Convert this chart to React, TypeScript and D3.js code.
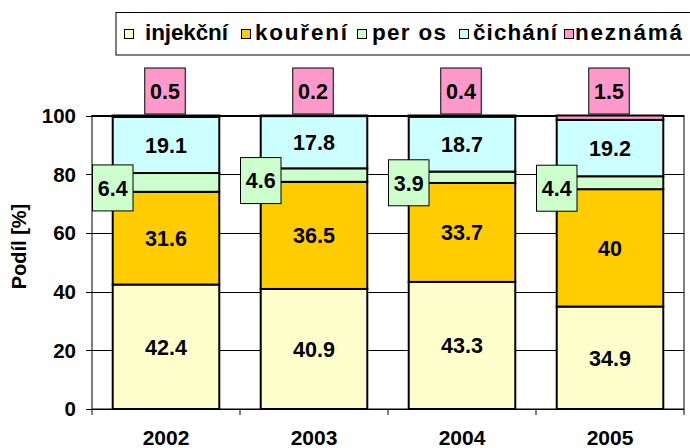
import React from "react";
import * as d3 from "d3";

const years = ["2002", "2003", "2004", "2005"];
const seriesNames = ["injekční", "kouření", "per os", "čichání", "neznámá"];
const injekcni = [42.4, 40.9, 43.3, 34.9];
const koureni = [31.6, 36.5, 33.7, 40];
const perOs = [6.4, 4.6, 3.9, 4.4];
const cichani = [19.1, 17.8, 18.7, 19.2];
const neznama = [0.5, 0.2, 0.4, 1.5];
const yTicks = [0, 20, 40, 60, 80, 100];
const colors = ["#FFFFCC", "#FFCC00", "#CCFFCC", "#CCFFFF", "#FF99CC"];

const FONT = "'Liberation Sans', Arial, Helvetica, sans-serif";

export default function App() {
  const W = 690, H = 448;
  const left = 92, right = 684, top = 115.5, bottom = 409;

  const rows = years.map((y, i) => ({
    year: y,
    [seriesNames[0]]: injekcni[i],
    [seriesNames[1]]: koureni[i],
    [seriesNames[2]]: perOs[i],
    [seriesNames[3]]: cichani[i],
    [seriesNames[4]]: neznama[i],
  }));
  const stack = d3.stack<any>().keys(seriesNames)(rows);

  const x = d3.scaleBand().domain(years).range([left, right]).paddingInner(0.28).paddingOuter(0.14);
  const y = d3.scaleLinear().domain([0, 100]).range([bottom, top]);
  const step = x.step();

  const legendItems = [
    { sq: 124, tx: 145, w: 83 },
    { sq: 241, tx: 255, w: 92 },
    { sq: 357, tx: 372, w: 74 },
    { sq: 459, tx: 473, w: 84 },
    { sq: 564, tx: 575, w: 107 },
  ];

  const boxW = 40.5, boxH = 46;

  return (
    <svg width={W} height={H} style={{ position: "absolute", left: 0, top: 0, background: "#fff" }} fontFamily={FONT}>
      <rect x={0} y={0} width={W} height={H} fill="#fff" />
      {/* legend */}
      <rect x={116} y={12.5} width={600} height={42.5} fill="#fff" stroke="#000" strokeWidth={1} />
      {seriesNames.map((s, i) => (
        <g key={s}>
          <rect x={legendItems[i].sq + 0.5} y={29.5} width={9} height={9} fill={colors[i]} stroke="#000" strokeWidth={1} />
          <text x={legendItems[i].tx} y={40} fontSize={22.5} fontWeight="bold" textLength={legendItems[i].w} lengthAdjust="spacing">{s}</text>
        </g>
      ))}

      {/* plot area + gridlines */}
      <rect x={left} y={top} width={right - left} height={bottom - top} fill="#fff" stroke="#000" strokeWidth={1} />
      {yTicks.map((t) => (
        <g key={t}>
          <line x1={left - 6} x2={right} y1={Math.round(y(t)) + 0.5} y2={Math.round(y(t)) + 0.5} stroke="#000" strokeWidth={1} />
          <text x={76} y={y(t)} dy="0.36em" textAnchor="end" fontSize={20.5} fontWeight="bold">{t}</text>
        </g>
      ))}
      {d3.range(years.length + 1).map((i) => (
        <line key={i} x1={left + i * step} x2={left + i * step} y1={bottom} y2={bottom + 6} stroke="#000" strokeWidth={1} />
      ))}

      {/* bars */}
      {stack.map((layer, si) => (
        <g key={layer.key}>
          {layer.map((d: any, i: number) => (
            <rect key={i} x={x(years[i])} y={y(d[1])} width={x.bandwidth()} height={y(d[0]) - y(d[1])}
              fill={colors[si]} stroke="#000" strokeWidth={2} />
          ))}
        </g>
      ))}

      {/* inside labels */}
      {[0, 1, 3].map((si) => stack[si].map((d: any, i: number) => (
        <text key={`${si}-${i}`} x={x(years[i])! + x.bandwidth() / 2} y={y((d[0] + d[1]) / 2)} dy="0.36em"
          textAnchor="middle" fontSize={21.5} fontWeight="bold">{d.data[seriesNames[si]]}</text>
      )))}

      {/* per os boxes */}
      {stack[2].map((d: any, i: number) => {
        const bx = left + i * step;
        const cy = y((d[0] + d[1]) / 2) + 5.5;
        return (
          <g key={`p${i}`}>
            <rect x={bx + 0.5} y={cy - boxH / 2} width={boxW} height={boxH} fill={colors[2]} stroke="#000" strokeWidth={1} />
            <text x={bx + 0.5 + boxW / 2} y={cy} dy="0.36em" textAnchor="middle" fontSize={21.5} fontWeight="bold">{perOs[i]}</text>
          </g>
        );
      })}

      {/* neznama boxes */}
      {stack[4].map((d: any, i: number) => {
        const cx = x(years[i])! + x.bandwidth() / 2 - 1;
        const by = y(d[1]) - boxH - 1.5;
        return (
          <g key={`n${i}`}>
            <rect x={cx - boxW / 2} y={by} width={boxW} height={boxH} fill={colors[4]} stroke="#000" strokeWidth={1} />
            <text x={cx} y={by + boxH / 2} dy="0.36em" textAnchor="middle" fontSize={21.5} fontWeight="bold">{neznama[i]}</text>
          </g>
        );
      })}

      {/* x labels */}
      {years.map((yr) => (
        <text key={yr} x={x(yr)! + x.bandwidth() / 2} y={445} textAnchor="middle" fontSize={21} fontWeight="bold">{yr}</text>
      ))}

      {/* y title */}
      <text transform={`translate(26,${246.5}) rotate(-90)`} textAnchor="middle" fontSize={20} fontWeight="bold">Podíl [%]</text>
    </svg>
  );
}
